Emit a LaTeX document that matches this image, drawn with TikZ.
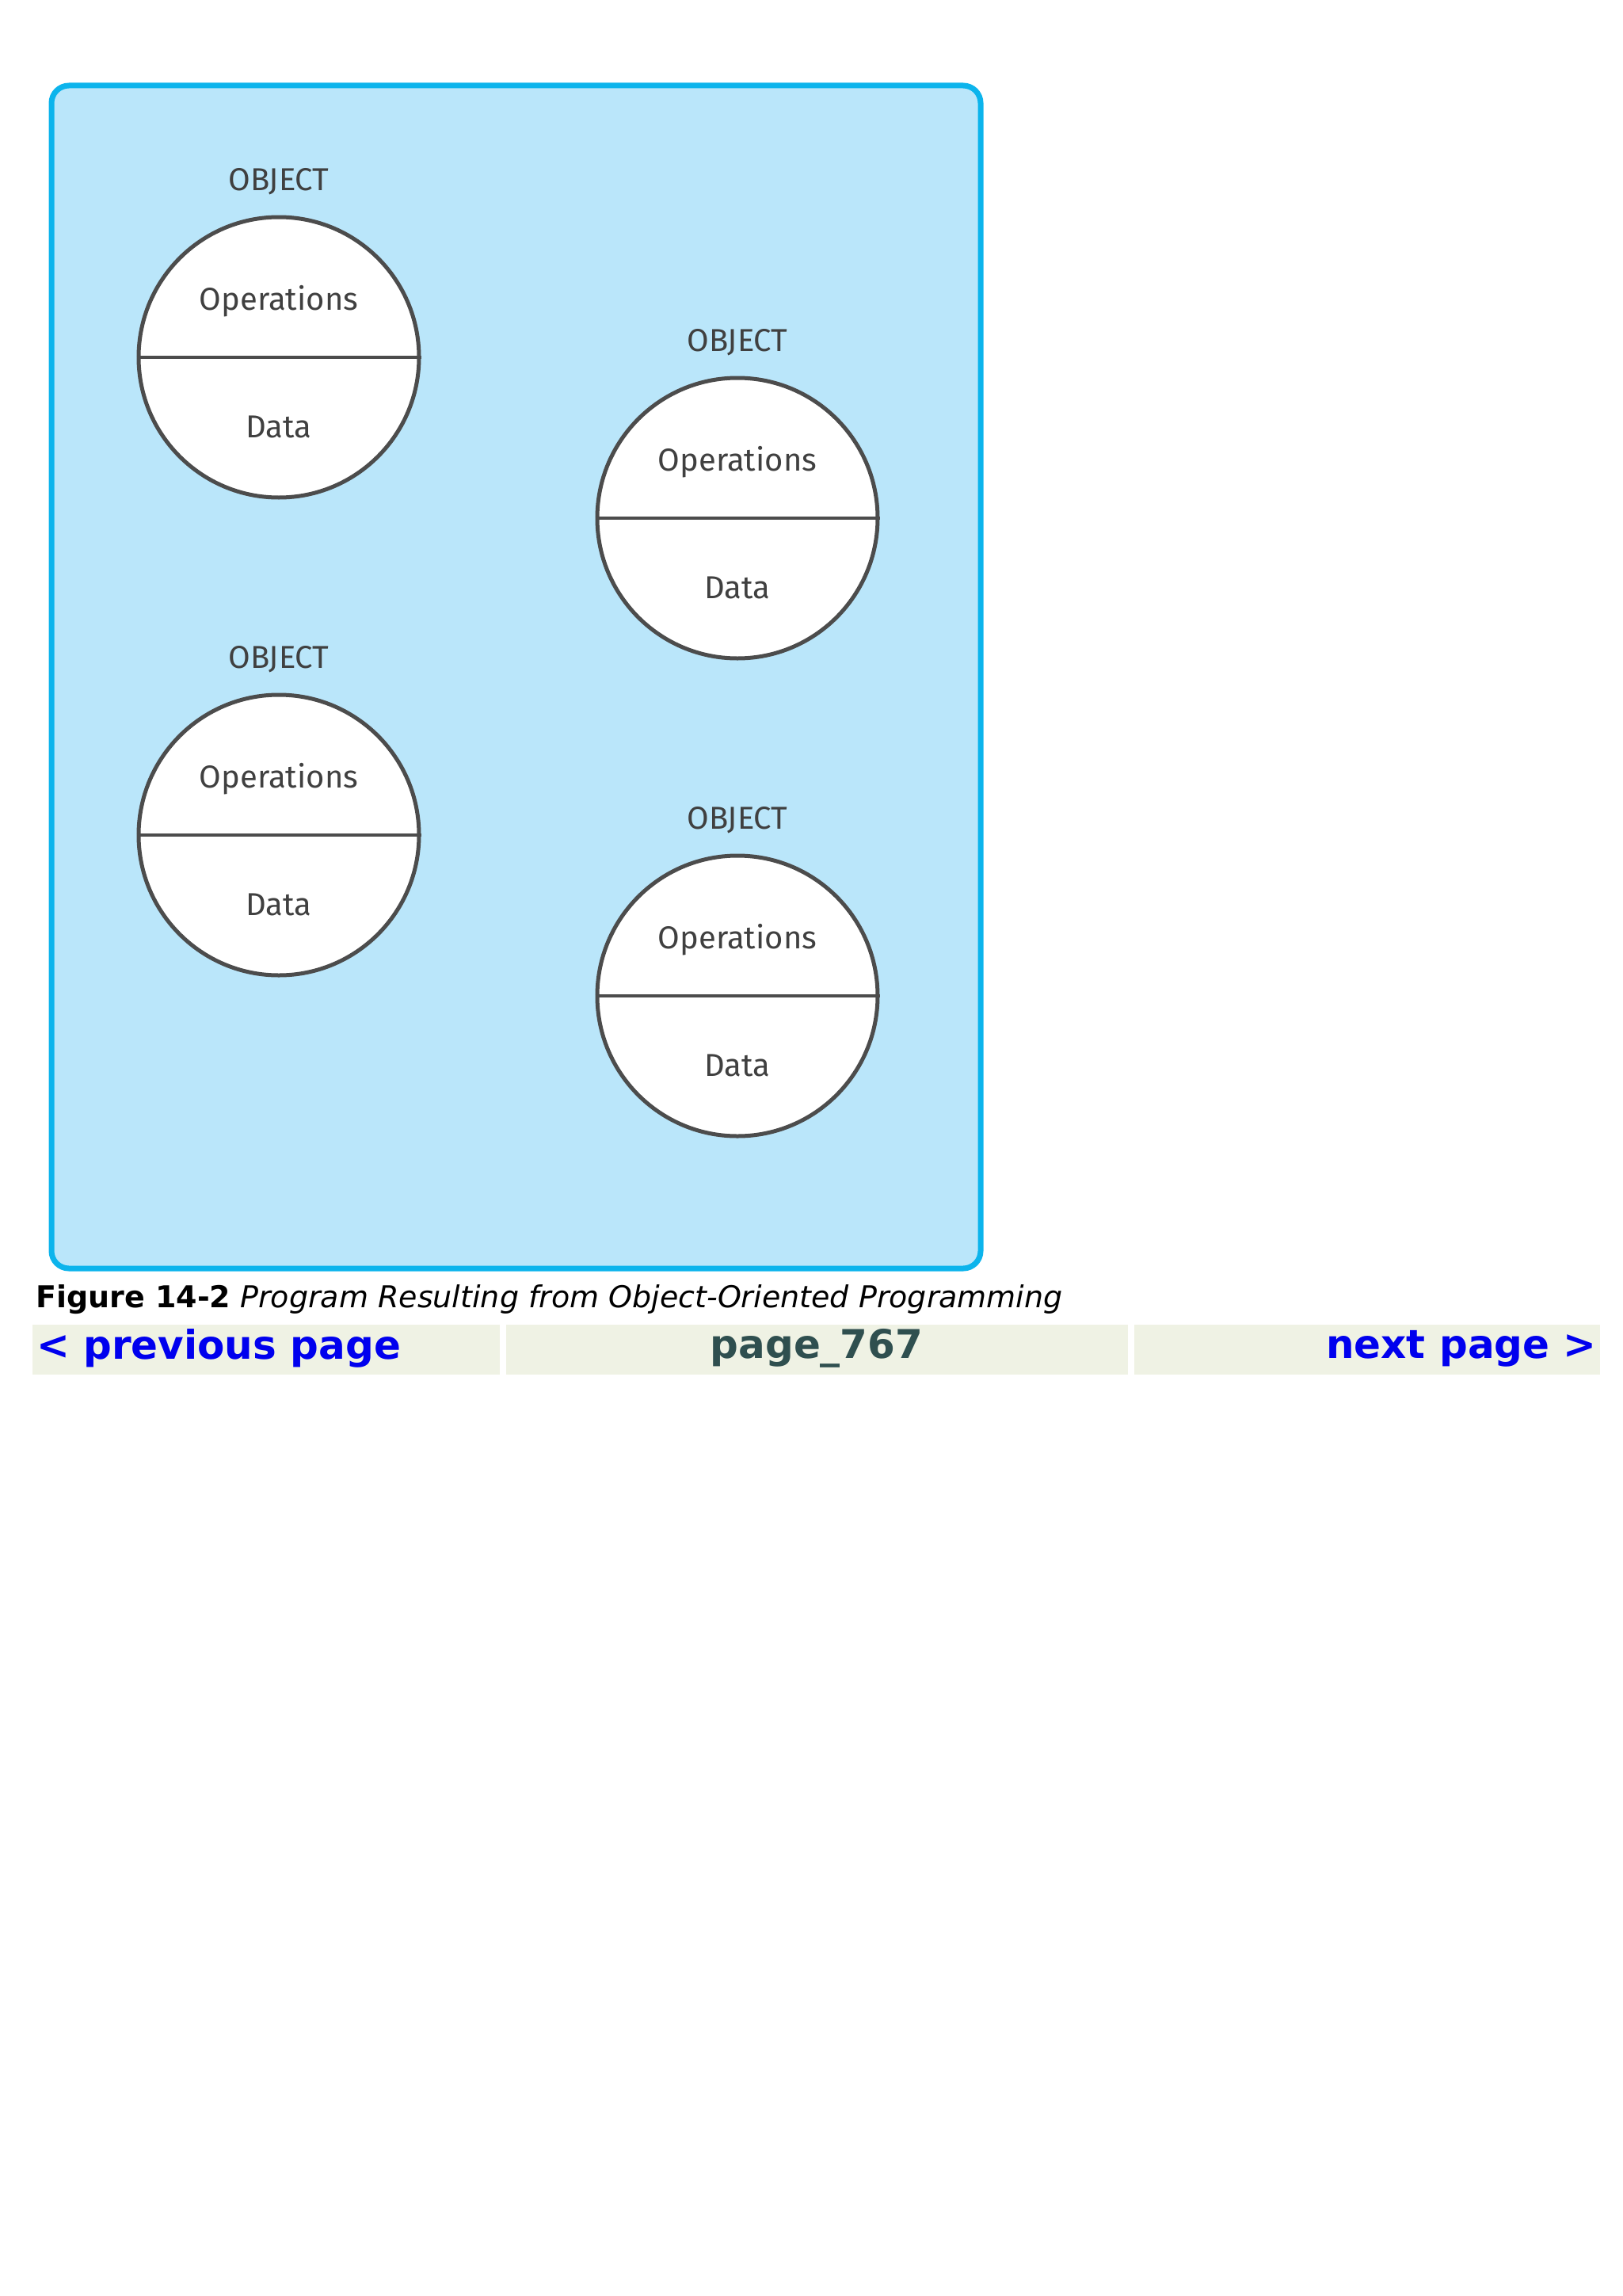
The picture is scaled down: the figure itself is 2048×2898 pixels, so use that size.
\documentclass[tikz,border=0pt]{standalone}
\usepackage{fontspec}
\setmainfont{DejaVu Sans}
\newfontfamily\lblfont{Fira Sans}
\definecolor{boxfill}{HTML}{BAE6FA}
\definecolor{boxline}{HTML}{0CB4EC}
\definecolor{navbg}{HTML}{EFF2E4}
\definecolor{navblue}{HTML}{0000EE}
\definecolor{navgray}{HTML}{2F4F4F}
\begin{document}
\begin{tikzpicture}[x=1pt,y=-1pt,
  lbl/.style={font=\lblfont\fontsize{40}{44}\selectfont, text=black!75},
  objc/.style={circle, minimum size=354pt, inner sep=0pt, fill=white, draw=black!70, line width=5pt},
  navcell/.style={fill=navbg, draw=none},
  navtxt/.style={font=\bfseries\fontsize{50}{56}\selectfont}]
\useasboundingbox (0,0) rectangle (2048,2898);
\fill[white] (0,0) rectangle (2048,2898);
\draw[fill=boxfill, draw=boxline, line width=7pt, rounded corners=22pt] (65,108) rectangle (1238,1601);
\foreach \n/\cx/\cy in {a/352/451, b/931/654, c/352/1054, d/931/1257}{
  \node[objc] (\n) at (\cx,\cy) {};
  \draw[black!70, line width=3.5pt] (\n.west) -- (\n.east);
  \node[lbl] (\n op) at (\cx,\cy-71) {Operations};
  \node[lbl] (\n da) at (\cx,\cy+88) {Data};
  \node[lbl] (\n ob) at (\cx,\cy-222) {OBJECT};
}
\node[anchor=west, font=\fontsize{38}{44}\selectfont, inner sep=0pt] (cap) at (45,1640) {\textbf{Figure 14-2} \textit{Program Resulting from Object-Oriented Programming}};
\fill[navcell] (41,1672) rectangle (631,1735);
\fill[navcell] (639,1672) rectangle (1424,1735);
\fill[navcell] (1432,1672) rectangle (2020,1735);
\node[navtxt, text=navblue, anchor=west, inner sep=0pt] (prev) at (46,1702) {< previous page};
\node[navtxt, text=navgray, inner sep=0pt] (pg) at (1031,1702) {page\_767};
\node[navtxt, text=navblue, anchor=east, inner sep=0pt] (next) at (2016,1702) {next page >};
\end{tikzpicture}
\end{document}
